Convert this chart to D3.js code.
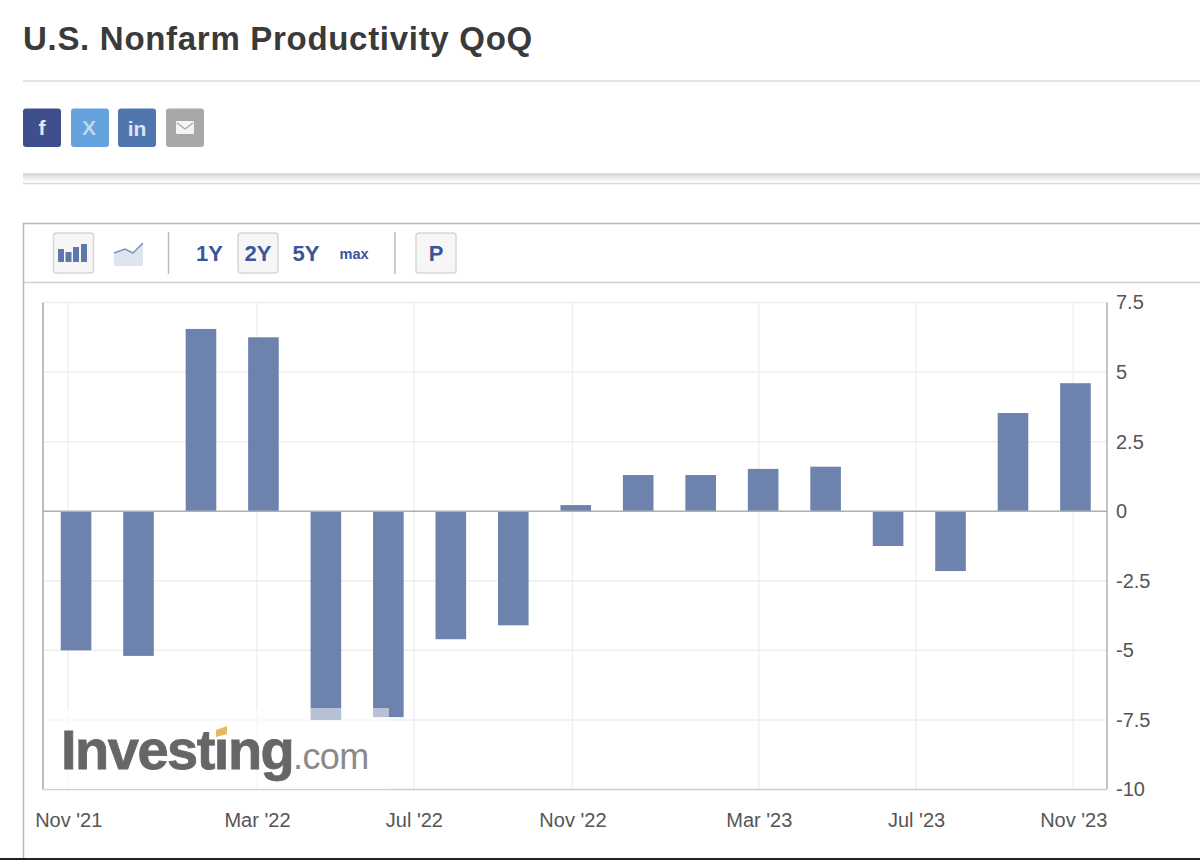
<!DOCTYPE html>
<html>
<head>
<meta charset="utf-8">
<title>U.S. Nonfarm Productivity QoQ</title>
<script src="https://cdn.jsdelivr.net/npm/d3@7/dist/d3.min.js"></script>
<style>
    html, body { margin: 0; padding: 0; background: #fff; overflow: hidden; }
    text { font-family: "Liberation Sans", Arial, sans-serif; }
    .axis text { font-size: 20px; fill: #555; font-family: "Liberation Sans", Arial, sans-serif; }
    .axis path, .axis line { display: none; }
</style>
</head>
<body>
<svg id="page" width="1200" height="860"></svg>
<script>
// release dates and values
const releases = ["2021-11-05", "2021-12-07", "2022-02-03", "2022-03-04", "2022-05-05", "2022-06-02",
    "2022-08-12", "2022-09-08", "2022-11-04", "2022-12-06", "2023-02-02", "2023-03-03",
    "2023-05-04", "2023-06-01", "2023-08-07", "2023-09-07", "2023-11-03"];
const values = [-5.0, -5.2, 6.55, 6.25, -7.5, -7.4, -4.6, -4.1, 0.22, 1.3, 1.3, 1.52, 1.6, -1.25, -2.15, 3.53, 4.6];

const xTickDates = ["2021-11-01", "2022-03-01", "2022-07-01", "2022-11-01", "2023-03-01", "2023-07-01", "2023-11-01"];
const yTicks = [7.5, 5, 2.5, 0, -2.5, -5, -7.5, -10];

const rangeButtons = ["1Y", "2Y", "5Y"];
const shareColors = ["#3f4f8c", "#63a2dc", "#5076ae", "#a8a8a8"];

const parseDate = d3.utcParse("%Y-%m-%d");
const plot = {left: 43, right: 1107, top: 302.5, bottom: 789.5};

const svg = d3.select("#page");

// ---- page header ----
svg.append("text")
    .attr("x", 23)
    .attr("y", 50)
    .attr("font-size", 33)
    .attr("font-weight", "bold")
    .attr("letter-spacing", 0.7)
    .attr("fill", "#3a3a3a")
    .text("U.S. Nonfarm Productivity QoQ");

function rule(x1, y, x2, color, width)
{
    svg.append("line")
        .attr("x1", x1).attr("x2", x2)
        .attr("y1", y).attr("y2", y)
        .attr("stroke", color)
        .attr("stroke-width", width);
}

rule(23, 81, 1200, "#dcdcdc", 1.5);

// share buttons
const share = svg.append("g");
shareColors.forEach(function(color, i)
{
    share.append("rect")
        .attr("x", [23, 71, 118, 166][i])
        .attr("y", 108.5)
        .attr("width", 38)
        .attr("height", 38.5)
        .attr("rx", 3)
        .attr("fill", color);
});
share.append("text").attr("x", 42).attr("y", 135).attr("text-anchor", "middle")
    .attr("font-size", 21).attr("font-weight", "bold").attr("fill", "#e4e7f0").text("f");
share.append("text").attr("x", 89).attr("y", 135).attr("text-anchor", "middle")
    .attr("font-size", 21).attr("font-weight", "bold").attr("fill", "#bcd6f0").text("X");
share.append("text").attr("x", 137).attr("y", 135.5).attr("text-anchor", "middle")
    .attr("font-size", 21).attr("font-weight", "bold").attr("fill", "#dbe4f0").text("in");
share.append("rect").attr("x", 176).attr("y", 121).attr("width", 18).attr("height", 13)
    .attr("rx", 1).attr("fill", "#f4f4f4");
share.append("path").attr("d", "M177 123 L185 129 L193 123").attr("fill", "none")
    .attr("stroke", "#a8a8a8").attr("stroke-width", 1.3);

// soft shadow under the share block
const shadow = svg.append("defs").append("linearGradient")
    .attr("id", "shadow").attr("x1", 0).attr("x2", 0).attr("y1", 0).attr("y2", 1);
shadow.append("stop").attr("offset", 0).attr("stop-color", "#d8d8d8");
shadow.append("stop").attr("offset", 1).attr("stop-color", "#ffffff");
svg.append("rect").attr("x", 23).attr("y", 174).attr("width", 1177).attr("height", 8).attr("fill", "url(#shadow)");
rule(23, 174, 1200, "#d4d4d4", 1.5);
rule(23, 183.5, 1200, "#dcdcdc", 1.5);

// ---- chart box and toolbar ----
svg.append("rect")
    .attr("x", 23.5)
    .attr("y", 223.5)
    .attr("width", 1200)
    .attr("height", 700)
    .attr("fill", "none")
    .attr("stroke", "#b8b8b8")
    .attr("stroke-width", 1.5);
rule(24, 282.5, 1200, "#d0d0d0", 1.5);

function toolButton(x)
{
    svg.append("rect")
        .attr("x", x)
        .attr("y", 233)
        .attr("width", 40)
        .attr("height", 40)
        .attr("rx", 3)
        .attr("fill", "#f6f6f6")
        .attr("stroke", "#d6d6d6")
        .attr("stroke-width", 1.5);
}
[53.5, 238, 416].forEach(toolButton);

// bars icon
[[58, 13], [65.5, 10], [73, 15], [81, 18]].forEach(function(b)
{
    svg.append("rect").attr("x", b[0]).attr("y", 262 - b[1]).attr("width", 6).attr("height", b[1])
        .attr("fill", "#5b78a8");
});
// area icon
svg.append("path").attr("d", "M114 253 L125 249 L133 253 L143 243 L143 266 L114 266 Z").attr("fill", "#dfe5ef");
svg.append("path").attr("d", "M114 253 L125 249 L133 253 L143 243").attr("fill", "none")
    .attr("stroke", "#7d95bd").attr("stroke-width", 1.6);

[168.5, 395].forEach(function(x)
{
    svg.append("line").attr("x1", x).attr("x2", x).attr("y1", 232).attr("y2", 274)
        .attr("stroke", "#bdbdbd").attr("stroke-width", 1.5);
});

const buttonText = svg.append("g")
    .attr("fill", "#3a559b")
    .attr("font-weight", "bold")
    .attr("text-anchor", "middle");
rangeButtons.forEach(function(label, i)
{
    buttonText.append("text")
        .attr("x", [209.5, 258, 306][i])
        .attr("y", 260.5)
        .attr("font-size", 22)
        .text(label);
});
buttonText.append("text").attr("x", 354).attr("y", 259).attr("font-size", 14.5).text("max");
buttonText.append("text").attr("x", 436).attr("y", 260.5).attr("font-size", 22).text("P");

// ---- scales ----
const band = d3.scaleBand()
    .domain(releases)
    .range([44.5, 1107])
    .paddingInner(0.51)
    .paddingOuter(0.26);

const y = d3.scaleLinear()
    .domain([-10, 7.5])
    .range([plot.bottom, plot.top]);

// the time axis is not linear: the releases sit evenly spaced, the months fall between them
const x = d3.scaleUtc()
    .domain(releases.map(parseDate))
    .range(releases.map(function(d) { return band(d) + band.bandwidth() / 2; }));

const tickDates = xTickDates.map(parseDate);

// ---- grid ----
svg.append("g").selectAll("line")
    .data(tickDates)
    .enter().append("line")
    .attr("x1", function(d) { return x(d); })
    .attr("x2", function(d) { return x(d); })
    .attr("y1", plot.top)
    .attr("y2", plot.bottom)
    .attr("stroke", "#f0f0f0")
    .attr("stroke-width", 1.5);

svg.append("g").selectAll("line")
    .data(yTicks.filter(function(d) { return d !== 0 && d !== -10; }))
    .enter().append("line")
    .attr("x1", plot.left)
    .attr("x2", plot.right)
    .attr("y1", function(d) { return y(d); })
    .attr("y2", function(d) { return y(d); })
    .attr("stroke", "#eeeeee")
    .attr("stroke-width", 1.5);

// ---- bars ----
svg.append("g").selectAll("rect")
    .data(values)
    .enter().append("rect")
    .attr("x", function(d, i) { return band(releases[i]); })
    .attr("width", band.bandwidth())
    .attr("y", function(d) { return y(Math.max(d, 0)); })
    .attr("height", function(d) { return Math.abs(y(d) - y(0)); })
    .attr("fill", "#6d83ad");

// zero line and frame
svg.append("line")
    .attr("x1", plot.left).attr("x2", plot.right)
    .attr("y1", y(0)).attr("y2", y(0))
    .attr("stroke", "#b0b0b0")
    .attr("stroke-width", 1.5);
svg.append("line")
    .attr("x1", plot.left).attr("x2", plot.left)
    .attr("y1", plot.top).attr("y2", plot.bottom)
    .attr("stroke", "#a8a8a8")
    .attr("stroke-width", 1.5);
svg.append("line")
    .attr("x1", plot.right).attr("x2", plot.right)
    .attr("y1", plot.top).attr("y2", plot.bottom)
    .attr("stroke", "#b0b0b0")
    .attr("stroke-width", 1.5);
svg.append("line")
    .attr("x1", plot.left).attr("x2", plot.right)
    .attr("y1", plot.bottom).attr("y2", plot.bottom)
    .attr("stroke", "#c3d2e2")
    .attr("stroke-width", 1.5);

// ---- watermark: half transparent plate over the bars, then the logo ----
svg.append("rect")
    .attr("x", 44)
    .attr("y", 708)
    .attr("width", 345)
    .attr("height", 81)
    .attr("fill", "#fff")
    .attr("opacity", 0.5);

svg.append("text")
    .attr("x", 61)
    .attr("y", 769)
    .attr("font-size", 56)
    .attr("font-weight", "bold")
    .attr("letter-spacing", -1.5)
    .attr("fill", "#666")
    .attr("stroke", "#666")
    .attr("stroke-width", 0.8)
    .text("Investing");
svg.append("text")
    .attr("x", 293)
    .attr("y", 769)
    .attr("font-size", 36)
    .attr("letter-spacing", -0.6)
    .attr("fill", "#8a8a8a")
    .text(".com");
svg.append("rect")
    .attr("x", 212)
    .attr("y", 722)
    .attr("width", 20)
    .attr("height", 15)
    .attr("fill", "#fff");
svg.append("path")
    .attr("d", "M216 730 L227 726 L227 734 L216 737 Z")
    .attr("fill", "#e8b95c");

// ---- axes ----
svg.append("g")
    .attr("class", "axis")
    .attr("transform", "translate(" + plot.right + ",0)")
    .call(d3.axisRight(y).tickValues(yTicks).tickFormat(String).tickSize(0).tickPadding(9));

svg.append("g")
    .attr("class", "axis")
    .attr("transform", "translate(0," + plot.bottom + ")")
    .call(d3.axisBottom(x).tickValues(tickDates).tickFormat(d3.utcFormat("%b '%y")).tickSize(0).tickPadding(23));

// bottom edge of the screenshot
rule(0, 859, 1200, "#222", 2);
</script>
</body>
</html>
